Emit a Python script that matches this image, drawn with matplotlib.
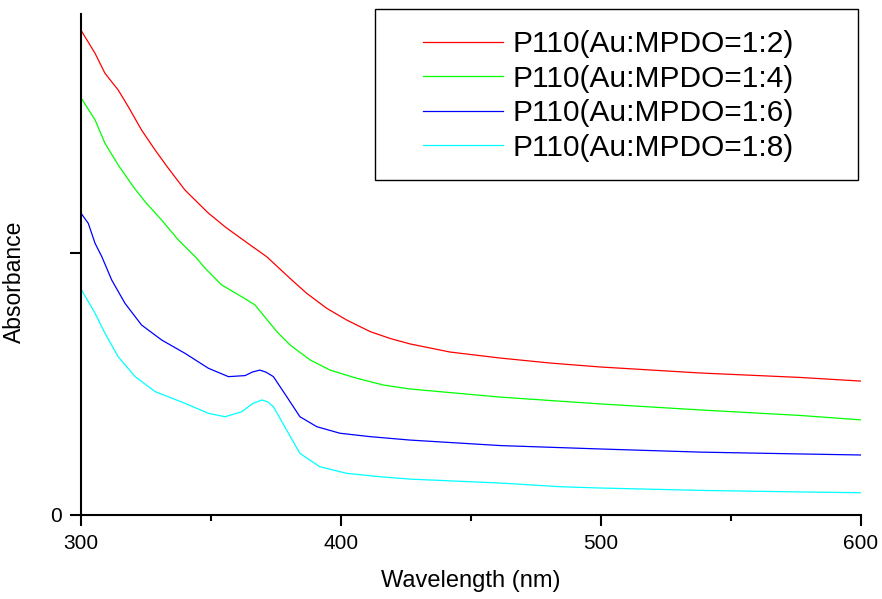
import matplotlib.pyplot as plt
from matplotlib.patches import Rectangle

plt.rcParams['font.family'] = ['Liberation Sans', 'DejaVu Sans']

# Spectra (wavelength in nm, absorbance in arb. units)
wl_12 = [300, 305.4, 309.2, 314.3, 318.2, 323.3, 328.5, 333.6, 340.0, 345.1,
         349.0, 355.4, 358.0, 365.0, 371.4, 380.4, 386.8, 394.5, 402.2, 411.2,
         418.8, 426.5, 441.9, 461.2, 480.4, 499.6, 538.1, 576.5, 600]
abs_12 = [1.850, 1.762, 1.686, 1.622, 1.558, 1.469, 1.393, 1.323, 1.240, 1.190,
          1.152, 1.100, 1.081, 1.031, 0.986, 0.903, 0.846, 0.789, 0.744, 0.700,
          0.674, 0.653, 0.622, 0.599, 0.580, 0.565, 0.542, 0.525, 0.511]

wl_14 = [300, 305.4, 309.2, 314.3, 320.1, 324.6, 331.0, 337.4, 344.5, 347.7,
         354.1, 361.8, 366.9, 370.1, 375.3, 380.4, 388.1, 395.8, 406.0, 416.3,
         426.5, 461.2, 499.6, 538.1, 576.5, 600]
abs_14 = [1.592, 1.508, 1.419, 1.336, 1.253, 1.196, 1.126, 1.050, 0.980, 0.942,
          0.878, 0.833, 0.802, 0.763, 0.700, 0.649, 0.592, 0.553, 0.522, 0.496,
          0.481, 0.450, 0.424, 0.401, 0.380, 0.363]

wl_16 = [300, 302.8, 305.4, 308.0, 311.8, 316.9, 323.3, 331.0, 340.0, 349.0,
         356.7, 363.1, 366.0, 368.8, 371.2, 374.0, 379.1, 384.2, 390.7, 399.6,
         411.2, 426.5, 461.2, 499.6, 538.1, 576.5, 600]
abs_16 = [1.152, 1.113, 1.037, 0.986, 0.897, 0.808, 0.725, 0.668, 0.617, 0.560,
          0.528, 0.532, 0.546, 0.553, 0.545, 0.528, 0.452, 0.375, 0.337, 0.312,
          0.299, 0.286, 0.265, 0.252, 0.240, 0.233, 0.229]

wl_18 = [300, 305.4, 309.2, 314.3, 320.8, 328.5, 340.0, 349.0, 355.4, 361.8,
         366.0, 369.5, 371.8, 374.0, 379.1, 384.2, 391.9, 402.2, 415.0, 426.5,
         461.2, 484.2, 499.6, 538.1, 576.5, 600]
abs_18 = [0.862, 0.770, 0.694, 0.604, 0.528, 0.471, 0.426, 0.388, 0.375, 0.394,
          0.425, 0.439, 0.432, 0.413, 0.324, 0.235, 0.184, 0.159, 0.146, 0.137,
          0.122, 0.108, 0.103, 0.094, 0.088, 0.085]

labels = ['P110(Au:MPDO=1:2)', 'P110(Au:MPDO=1:4)',
          'P110(Au:MPDO=1:6)', 'P110(Au:MPDO=1:8)']
colors = ['#ff0000', '#00ff00', '#0000ff', '#00ffff']

fig = plt.figure(figsize=(8.82, 5.99), dpi=100)
ax = fig.add_axes([81 / 882, 84 / 599, 780 / 882, 501 / 599])

series = [(wl_12, abs_12), (wl_14, abs_14), (wl_16, abs_16), (wl_18, abs_18)]
for (x, y), lab, c in zip(series, labels, colors):
    ax.plot(x, y, color=c, lw=0.9, label=lab)

ax.set_xlim(300, 600)
ax.set_ylim(0, 1.912)
ax.set_xticks([300, 400, 500, 600])
ax.set_xticks([350, 450, 550], minor=True)
ax.set_yticks([0, 1])
ax.set_yticklabels(['0', ''])

for side in ['top', 'right']:
    ax.spines[side].set_visible(False)
for side in ['left', 'bottom']:
    ax.spines[side].set_linewidth(1.5)

ax.tick_params(which='major', direction='out', length=8, width=1.5,
               labelsize=15, pad=6)
ax.tick_params(which='minor', direction='out', length=4, width=1.5)

ax.set_xlabel('Wavelength (nm)', fontsize=17, labelpad=12)
ax.set_ylabel('Absorbance', fontsize=16.5)
ax.yaxis.set_label_coords(-0.0705, 0.465)

# legend frame and entries
fig.patches.append(Rectangle((375 / 882, 1 - 180 / 599), 483 / 882, 171 / 599,
                             transform=fig.transFigure, fill=False,
                             edgecolor='black', lw=1))
fig.legend(loc='upper left', bbox_to_anchor=(423 / 882, 1 - 30 / 599),
           frameon=False, fontsize=21.5, borderpad=0, borderaxespad=0,
           handlelength=2.68, handletextpad=0.33, labelspacing=0.22)

plt.savefig('out.png', dpi=100)
